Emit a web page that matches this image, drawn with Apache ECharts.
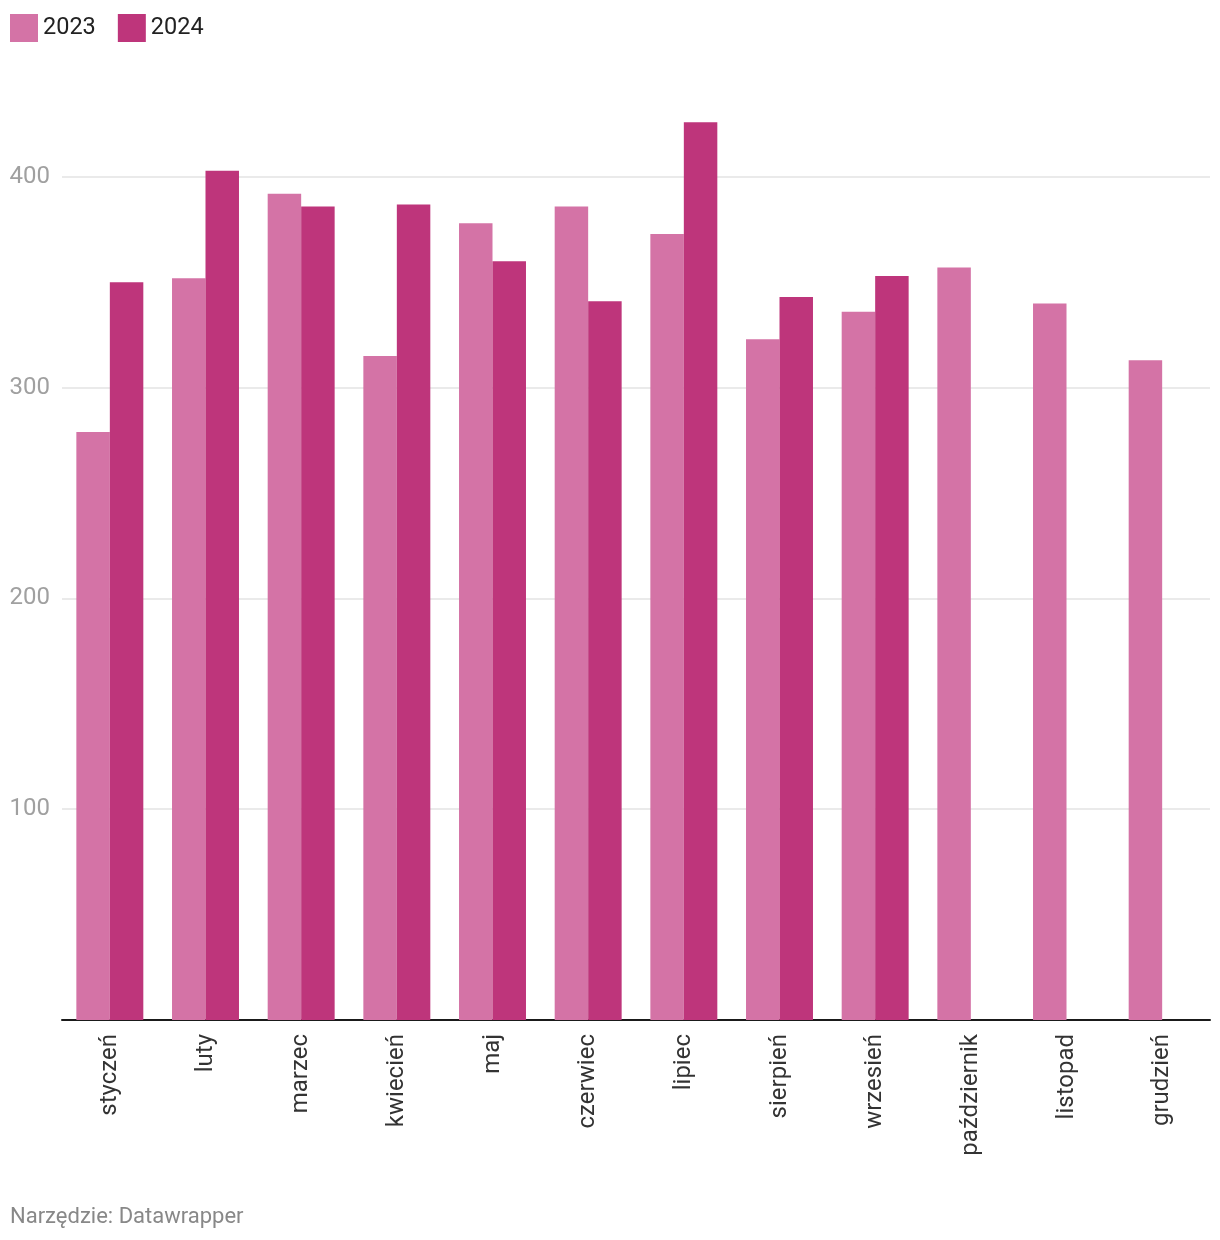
<!DOCTYPE html>
<html>
<head>
<meta charset="utf-8">
<script src="https://cdn.jsdelivr.net/npm/echarts@6/dist/echarts.min.js"></script>
<style>
html,body{margin:0;padding:0;background:#fff;}
#chart{width:1220px;height:1240px;}
</style>
</head>
<body>
<div id="chart"></div>
<script>
const months = ['styczeń','luty','marzec','kwiecień','maj','czerwiec','lipiec','sierpień','wrzesień','październik','listopad','grudzień'];
const values2023 = [279, 352, 392, 315, 378, 386, 373, 323, 336, 357, 340, 313];
const values2024 = [350, 403, 386, 387, 360, 341, 426, 343, 353, null, null, null];
const seriesNames = ['2023', '2024'];
const footerText = 'Narzędzie: Datawrapper';

const chart = echarts.init(document.getElementById('chart'), null, {renderer: 'canvas'});
chart.setOption({
  animation: false,
  textStyle: {fontFamily: 'Roboto'},
  title: {
    text: footerText,
    left: 5, top: 1201,
    textStyle: {fontSize: 22, fontWeight: 'normal', color: '#888', fontFamily: 'Roboto'}
  },
  legend: {
    left: 5, top: 9,
    itemWidth: 28, itemHeight: 28, itemGap: 22,
    icon: 'rect',
    textStyle: {fontSize: 23.5, color: '#222', fontFamily: 'Roboto'},
    data: seriesNames
  },
  grid: {left: 62, right: 10, top: 71.6, bottom: 220, containLabel: false},
  xAxis: {
    type: 'category',
    data: months,
    axisLine: {lineStyle: {color: '#1a1a1a', width: 2}},
    axisTick: {show: false},
    axisLabel: {rotate: 90, fontSize: 24, color: '#333', margin: 14, fontFamily: 'Roboto'}
  },
  yAxis: {
    type: 'value',
    min: 0, max: 450, interval: 100,
    axisLine: {show: false},
    axisTick: {show: false},
    axisLabel: {
      fontSize: 24, color: '#a0a0a0', margin: 12, fontFamily: 'Roboto',
      showMinLabel: false, showMaxLabel: false
    },
    splitLine: {show: true, showMinLine: false, showMaxLine: false, lineStyle: {color: '#e3e3e3', width: 1.5}}
  },
  series: [
    {name: seriesNames[0], type: 'bar', data: values2023, itemStyle: {color: '#d473a6'}, barGap: '0%', barCategoryGap: '30%'},
    {name: seriesNames[1], type: 'bar', data: values2024, itemStyle: {color: '#be357b'}, barGap: '0%', barCategoryGap: '30%'}
  ]
});
</script>
</body>
</html>
